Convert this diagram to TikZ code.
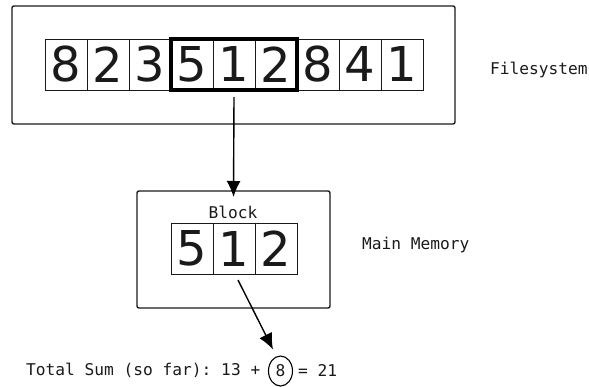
\documentclass[tikz,border=0pt]{standalone}
\usepackage{fontspec}
\setmainfont{DejaVu Sans}
\setmonofont{DejaVu Sans Mono}
\usetikzlibrary{arrows.meta,fit,shapes.geometric}
\definecolor{ink}{HTML}{1A1A1A}
\tikzset{
  panel/.style={draw=ink, line width=1.4pt, rounded corners=2pt, inner sep=0pt, outer sep=0pt},
  cell/.style={draw=ink, line width=0.9pt, inner sep=0pt, outer sep=0pt,
    minimum height=51pt, minimum width=42pt, text=ink, font=\fontsize{48}{48}\selectfont},
  sel/.style={draw=black, line width=3.4pt, inner sep=0pt, outer sep=0pt},
  label/.style={font=\ttfamily\fontsize{16.2}{19}\selectfont, text=ink, inner sep=0pt},
  arr/.style={draw=black, line width=1.4pt, -{Latex[length=16pt,width=14pt]}},
  ring/.style={ellipse, draw=black, line width=1.1pt, minimum width=24pt, minimum height=30pt,
    inner sep=0pt, font=\ttfamily\fontsize{16.2}{19}\selectfont, text=ink}
}
\begin{document}
\begin{tikzpicture}[x=1pt, y=-1pt]
\useasboundingbox (0,0) rectangle (589,386);

% Filesystem panel
\node[panel, minimum width=443pt, minimum height=118pt] (fs) at (233.5,65) {};
\foreach \d [count=\i] in {8,2,3,5,1,2,8,4,1} {
  \node[cell] (c\i) at ({45+42*(\i-0.5)},64.5) {\d};
}
\node[sel, fit=(c4)(c6)] (selblk) {};
\node[label, anchor=west] (fslabel) at (490,70) {Filesystem};

% Main memory panel
\node[panel, minimum width=193pt, minimum height=117pt] (mem) at (233.5,249.5) {};
\node[label] (blk) at (233,212) {Block};
\foreach \d [count=\i] in {5,1,2} {
  \node[cell] (m\i) at ({171+42*(\i-0.5)},248.5) {\d};
}
\node[label, anchor=west] (memlabel) at (362,245) {Main Memory};

% Running total
\node[label, anchor=west] (sumtxt) at (26,370) {Total Sum (so far): 13 +};
\node[ring] (cur) at (280.5,371) {8};
\node[label, anchor=west] (sumres) at (298,370) {= 21};

% Data flow
\draw[arr] ([yshift=-7pt]selblk.south) -- ([yshift=-6pt]mem.north);
\draw[arr] ([xshift=4pt,yshift=-6pt]m2.south) -- ([xshift=-7.5pt,yshift=6pt]cur.north);
\end{tikzpicture}
\end{document}
